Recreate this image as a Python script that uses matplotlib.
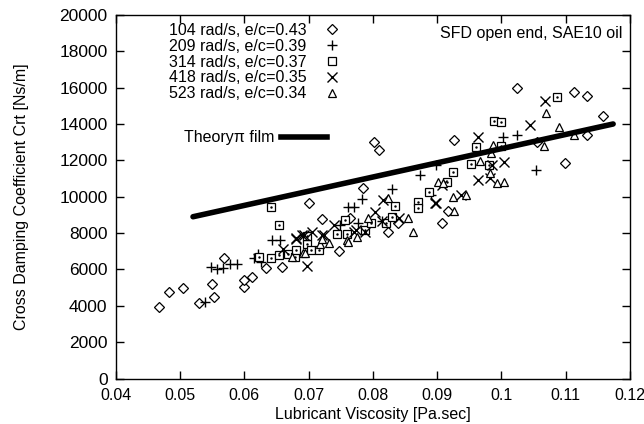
import matplotlib
matplotlib.use("Agg")
import matplotlib.pyplot as plt
from matplotlib.lines import Line2D

plt.rcParams['font.family'] = ['Liberation Sans', 'DejaVu Sans']

# 104 rad/s, e/c=0.43
visc_104 = [0.0467, 0.0483, 0.0504, 0.0529, 0.0550, 0.0552, 0.0569, 0.0600, 0.0600, 0.0612,
            0.0633, 0.0658, 0.0701, 0.0721, 0.0747, 0.0764, 0.0784, 0.0801, 0.0809, 0.0823,
            0.0839, 0.0907, 0.0917, 0.0927, 0.1025, 0.1055, 0.1099, 0.1113, 0.1134, 0.1134, 0.1159]
crt_104 = [3950, 4780, 4960, 4140, 5200, 4500, 6610, 5050, 5420, 5600,
           6060, 6150, 9670, 8780, 7030, 8810, 10470, 13030, 12570, 8080,
           8540, 8570, 9230, 13120, 15970, 13030, 11870, 15780, 15540, 13400, 14440]

# 209 rad/s, e/c=0.39
visc_209 = [0.0538, 0.0548, 0.0557, 0.0567, 0.0578, 0.0589, 0.0615, 0.0621, 0.0626, 0.0643,
            0.0656, 0.0749, 0.0762, 0.0770, 0.0777, 0.0783, 0.0814, 0.0830, 0.0873, 0.0891,
            0.0899, 0.1002, 0.1024, 0.1054]
crt_209 = [4230, 6120, 6020, 6060, 6300, 6300, 6610, 6850, 6430, 7620,
           7620, 8450, 9450, 9450, 8540, 9860, 8680, 10410, 11200, 10100,
           11750, 13300, 13400, 11470]

# 314 rad/s, e/c=0.37
visc_314 = [0.0623, 0.0641, 0.0641, 0.0654, 0.0654, 0.0668, 0.0678, 0.0680, 0.0698, 0.0698,
            0.0704, 0.0716, 0.0744, 0.0757, 0.0760, 0.0788, 0.0797, 0.0820, 0.0829, 0.0835,
            0.0870, 0.0870, 0.0888, 0.0915, 0.0925, 0.0953, 0.0961, 0.0980, 0.0989, 0.0999,
            0.0999, 0.1086]
crt_314 = [6700, 9420, 6610, 8430, 6800, 6850, 6670, 7070, 7380, 7840,
           7070, 7070, 7950, 8720, 7950, 8170, 8540, 8570, 8900, 9490,
           9730, 9360, 10280, 10830, 11380, 11800, 12750, 11750, 14180, 14130,
           12810, 15470]

# 418 rad/s, e/c=0.35
visc_418 = [0.0660, 0.0680, 0.0681, 0.0690, 0.0693, 0.0698, 0.0705, 0.0721, 0.0724, 0.0740,
            0.0771, 0.0773, 0.0788, 0.0804, 0.0814, 0.0816, 0.0840, 0.0896, 0.0899, 0.0908,
            0.0937, 0.0963, 0.0963, 0.0983, 0.0985, 0.1004, 0.1045, 0.1068]
crt_418 = [7110, 7710, 7660, 7900, 7900, 6190, 8080, 7900, 7900, 8450,
           8080, 8170, 8080, 9180, 8680, 9820, 8810, 9640, 9640, 10650,
           10100, 10920, 13300, 11020, 11750, 11900, 13950, 15290]

# 523 rad/s, e/c=0.34
visc_523 = [0.0674, 0.0692, 0.0694, 0.0718, 0.0721, 0.0732, 0.0760, 0.0761, 0.0775, 0.0792,
            0.0824, 0.0855, 0.0863, 0.0902, 0.0909, 0.0925, 0.0926, 0.0945, 0.0966, 0.0983,
            0.0984, 0.0987, 0.0994, 0.1004, 0.1066, 0.1069, 0.1090, 0.1113]
crt_523 = [6700, 6890, 6920, 7400, 7660, 7470, 7620, 7530, 7800, 8810,
           9910, 8810, 8080, 10830, 10770, 10000, 9230, 10100, 11980, 11290,
           12390, 12850, 10740, 10800, 12790, 14630, 13860, 13400]

# theory, pi film
theory_visc = [0.052, 0.1174]
theory_crt = [8900, 14000]

labels = ["104 rad/s, e/c=0.43", "209 rad/s, e/c=0.39", "314 rad/s, e/c=0.37",
          "418 rad/s, e/c=0.35", "523 rad/s, e/c=0.34"]

fig = plt.figure(figsize=(6.44, 4.24), dpi=100)
ax = fig.add_axes([0.180, 0.107, 0.798, 0.858])

ax.plot(visc_104, crt_104, 'D', mfc='white', mec='black', ms=5, mew=0.9, ls='none', label=labels[0])
ax.plot(visc_209, crt_209, '+', color='black', ms=7.5, mew=1.0, ls='none', label=labels[1])
ax.plot(visc_314, crt_314, 's', mfc='white', mec='black', ms=5.5, mew=0.9, ls='none', label=labels[2])
ax.plot(visc_314, crt_314, '.', color='black', ms=1.5, ls='none')
ax.plot(visc_418, crt_418, 'x', color='black', ms=6.5, mew=1.0, ls='none', label=labels[3])
ax.plot(visc_523, crt_523, '^', mfc='white', mec='black', ms=5.5, mew=0.9, ls='none', label=labels[4])
ax.plot(theory_visc, theory_crt, '-', color='black', lw=4, solid_capstyle='round')

ax.set_xlim(0.04, 0.12)
ax.set_ylim(0, 20000)
ax.set_xticks([0.04, 0.05, 0.06, 0.07, 0.08, 0.09, 0.1, 0.11, 0.12])
ax.set_xticklabels(["0.04", "0.05", "0.06", "0.07", "0.08", "0.09", "0.1", "0.11", "0.12"])
ax.set_yticks(range(0, 20001, 2000))
ax.tick_params(direction='in', top=True, right=True, length=6, width=1, labelsize=12.5)
ax.tick_params(axis='x', pad=7, labelsize=11.5)
ax.tick_params(axis='y', pad=6)
for s in ax.spines.values():
    s.set_linewidth(1.0)

ax.set_xlabel("Lubricant Viscosity [Pa.sec]", fontsize=11.5)
ax.set_ylabel("Cross Damping Coefficient Crt [Ns/m]", fontsize=11.5)
ax.xaxis.set_label_coords(0.5, -0.077)
ax.yaxis.set_label_coords(-0.17, 0.5)

leg1 = ax.legend(loc='upper left', bbox_to_anchor=(0.09, 0.995), frameon=False, markerfirst=False,
                 fontsize=11.5, handlelength=1.2, handletextpad=1.0, labelspacing=0.05,
                 borderaxespad=0)
ax.add_artist(leg1)

theory_handle = Line2D([0], [0], color='black', lw=4)
ax.legend([theory_handle], ["Theory\u03c0 film"], loc='upper left', bbox_to_anchor=(0.12, 0.70),
          frameon=False, markerfirst=False, fontsize=11.5, handlelength=2.9, handletextpad=0.4,
          borderaxespad=0)

ax.text(0.985, 0.968, "SFD open end, SAE10 oil", transform=ax.transAxes, ha='right', va='top',
        fontsize=11.5)

fig.savefig("out.png", dpi=100)
